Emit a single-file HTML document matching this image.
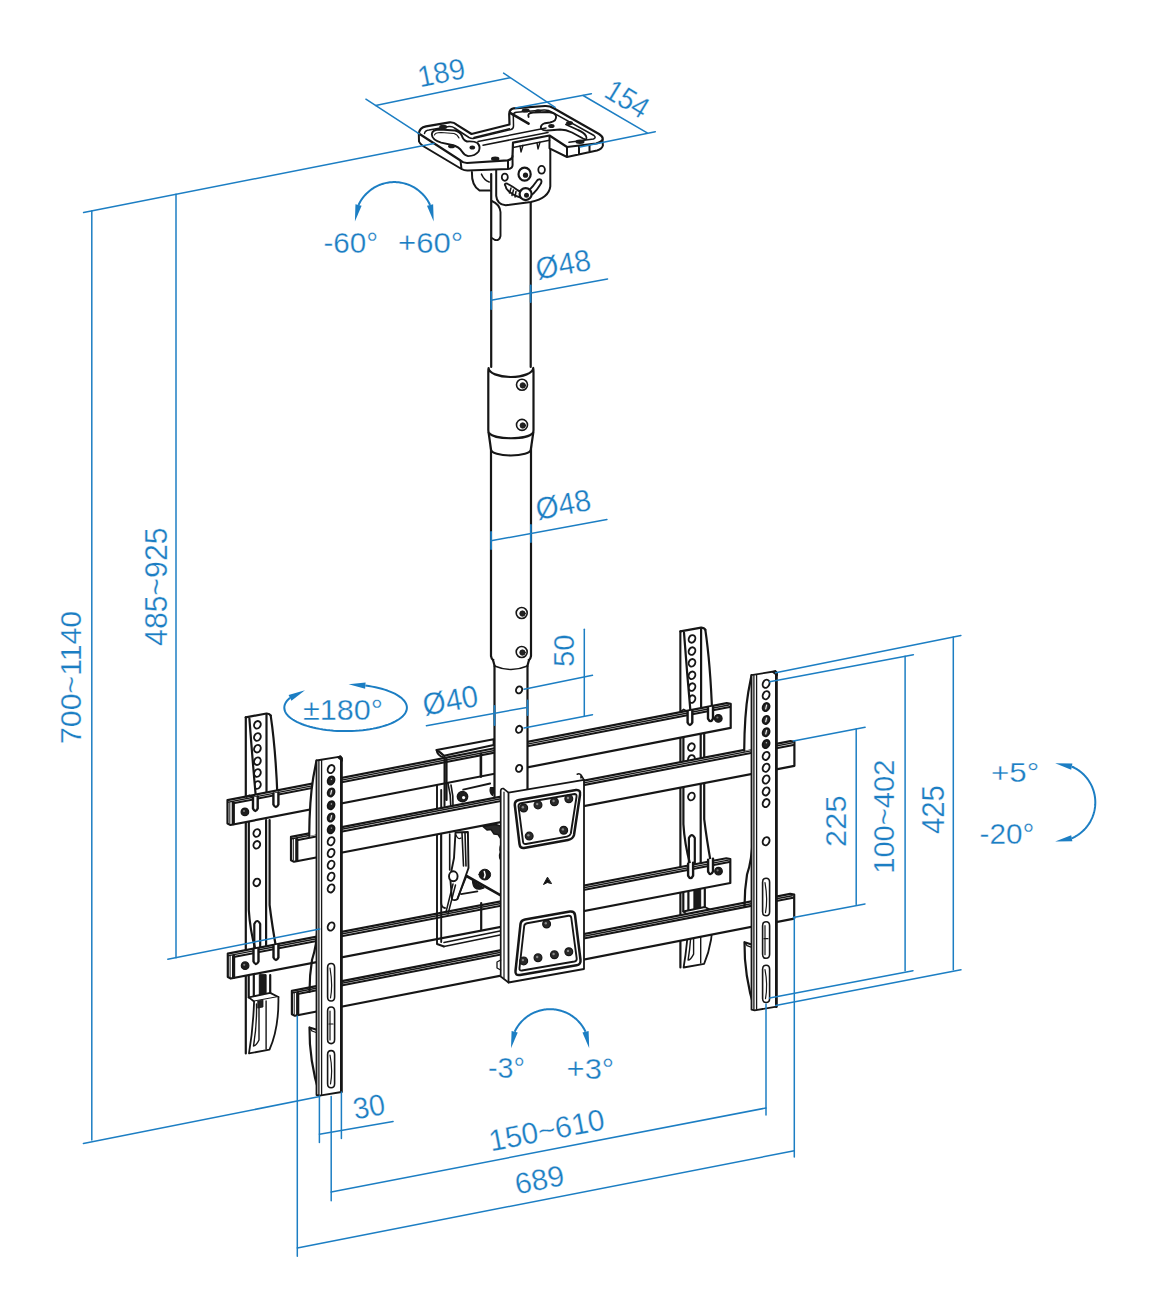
<!DOCTYPE html>
<html><head><meta charset="utf-8"><style>
html,body{margin:0;padding:0;background:#fff;}
svg{display:block;}
text{font-family:"Liberation Sans",sans-serif;}
</style></head><body>
<svg width="1155" height="1315" viewBox="0 0 1155 1315">
<rect width="1155" height="1315" fill="#fff"/>
<g stroke-linecap="round" stroke-linejoin="round">
<path d="M245.8,717.3 L245.8,1053.4" fill="none" stroke="#161616" stroke-width="2.2"/>
<path d="M245.8,717.3 L266.5,713.5 Q269.5,713.3 270.7,715.6" fill="none" stroke="#161616" stroke-width="2.2"/>
<ellipse cx="257.4" cy="724.8" rx="3.2" ry="3.9" fill="#fff" stroke="#161616" stroke-width="1.9" transform="rotate(25 257.4 724.8)"/>
<ellipse cx="257.4" cy="737.0" rx="3.2" ry="3.9" fill="#fff" stroke="#161616" stroke-width="1.9" transform="rotate(25 257.4 737.0)"/>
<ellipse cx="257.4" cy="748.7" rx="3.2" ry="3.9" fill="#fff" stroke="#161616" stroke-width="1.9" transform="rotate(25 257.4 748.7)"/>
<ellipse cx="257.4" cy="761.2" rx="3.2" ry="3.9" fill="#fff" stroke="#161616" stroke-width="1.9" transform="rotate(25 257.4 761.2)"/>
<ellipse cx="257.4" cy="773.0" rx="3.2" ry="3.9" fill="#fff" stroke="#161616" stroke-width="1.9" transform="rotate(25 257.4 773.0)"/>
<ellipse cx="257.4" cy="785.0" rx="3.2" ry="3.9" fill="#fff" stroke="#161616" stroke-width="1.9" transform="rotate(25 257.4 785.0)"/>
<path d="M247.2,718.6 L249.4,718.6 Q252.5,760 256.1,800 L247.2,800 Z" fill="#fff" stroke="none" stroke-width="0"/>
<path d="M249.4,718.6 Q252.5,760 256.1,800" fill="none" stroke="#161616" stroke-width="2.2"/>
<path d="M266.5,714 L266.5,800" fill="none" stroke="#161616" stroke-width="2.2"/>
<path d="M270.7,715.6 Q275.8,750 277.6,800" fill="none" stroke="#161616" stroke-width="2.2"/>
<path d="M248.8,820 L248.8,910 Q250,930 255.5,950" fill="none" stroke="#161616" stroke-width="2.2"/>
<path d="M266.1,820 L266.1,950 M269.6,820 L269.6,905 Q272,925 276.5,950" fill="none" stroke="#161616" stroke-width="2.2"/>
<path d="M254.3,952 L254.3,924 Q257.2,918 260.2,924 L260.2,952" fill="none" stroke="#161616" stroke-width="2.2"/>
<ellipse cx="256.8" cy="833.0" rx="3.2" ry="3.9" fill="#fff" stroke="#161616" stroke-width="1.9" transform="rotate(25 256.8 833.0)"/>
<ellipse cx="256.8" cy="844.8" rx="3.2" ry="3.9" fill="#fff" stroke="#161616" stroke-width="1.9" transform="rotate(25 256.8 844.8)"/>
<ellipse cx="256.8" cy="882.4" rx="3.2" ry="3.9" fill="#fff" stroke="#161616" stroke-width="1.9" transform="rotate(25 256.8 882.4)"/>
<path d="M248.7,975 L248.7,997.4 M253.8,975 L253.8,996 M270.2,975 L270.2,993" fill="none" stroke="#161616" stroke-width="2.2"/>
<path d="M259.3,975 L259.3,996.7 L266.1,996 L266.1,975 Z" fill="#1a1a1a" stroke="#161616" stroke-width="1"/>
<path d="M248.7,997.4 L270.2,992.9 L278.4,997 L254.1,1001.5 Z" fill="#fff" stroke="#161616" stroke-width="1.8"/>
<path d="M254.1,1001.5 Q253,1030 249,1053.4 L269.5,1049.7 Q279,1028 278.4,997" fill="#fff" stroke="#161616" stroke-width="1.8"/>
<path d="M266.1,1001 L266.1,1049 M256.5,1004 Q257,1025 253.5,1046 M259,1006 L259,1040 Q256,1046 253.5,1046" fill="none" stroke="#161616" stroke-width="1.4"/>
<path d="M258,1001 L263,1000 L263,1007 L258,1008 Z" fill="#222" stroke="#161616" stroke-width="0.8"/>
<g transform="translate(434.6,-85.9)">
<path d="M245.8,717.3 L245.8,1053.4" fill="none" stroke="#161616" stroke-width="2.2"/>
<path d="M245.8,717.3 L266.5,713.5 Q269.5,713.3 270.7,715.6" fill="none" stroke="#161616" stroke-width="2.2"/>
<ellipse cx="257.4" cy="724.8" rx="3.2" ry="3.9" fill="#fff" stroke="#161616" stroke-width="1.9" transform="rotate(25 257.4 724.8)"/>
<ellipse cx="257.4" cy="737.0" rx="3.2" ry="3.9" fill="#fff" stroke="#161616" stroke-width="1.9" transform="rotate(25 257.4 737.0)"/>
<ellipse cx="257.4" cy="748.7" rx="3.2" ry="3.9" fill="#fff" stroke="#161616" stroke-width="1.9" transform="rotate(25 257.4 748.7)"/>
<ellipse cx="257.4" cy="761.2" rx="3.2" ry="3.9" fill="#fff" stroke="#161616" stroke-width="1.9" transform="rotate(25 257.4 761.2)"/>
<ellipse cx="257.4" cy="773.0" rx="3.2" ry="3.9" fill="#fff" stroke="#161616" stroke-width="1.9" transform="rotate(25 257.4 773.0)"/>
<ellipse cx="257.4" cy="785.0" rx="3.2" ry="3.9" fill="#fff" stroke="#161616" stroke-width="1.9" transform="rotate(25 257.4 785.0)"/>
<path d="M247.2,718.6 L249.4,718.6 Q252.5,760 256.1,800 L247.2,800 Z" fill="#fff" stroke="none" stroke-width="0"/>
<path d="M249.4,718.6 Q252.5,760 256.1,800" fill="none" stroke="#161616" stroke-width="2.2"/>
<path d="M266.5,714 L266.5,800" fill="none" stroke="#161616" stroke-width="2.2"/>
<path d="M270.7,715.6 Q275.8,750 277.6,800" fill="none" stroke="#161616" stroke-width="2.2"/>
<path d="M248.8,820 L248.8,910 Q250,930 255.5,950" fill="none" stroke="#161616" stroke-width="2.2"/>
<path d="M266.1,820 L266.1,950 M269.6,820 L269.6,905 Q272,925 276.5,950" fill="none" stroke="#161616" stroke-width="2.2"/>
<path d="M254.3,952 L254.3,924 Q257.2,918 260.2,924 L260.2,952" fill="none" stroke="#161616" stroke-width="2.2"/>
<ellipse cx="256.8" cy="833.0" rx="3.2" ry="3.9" fill="#fff" stroke="#161616" stroke-width="1.9" transform="rotate(25 256.8 833.0)"/>
<ellipse cx="256.8" cy="844.8" rx="3.2" ry="3.9" fill="#fff" stroke="#161616" stroke-width="1.9" transform="rotate(25 256.8 844.8)"/>
<ellipse cx="256.8" cy="882.4" rx="3.2" ry="3.9" fill="#fff" stroke="#161616" stroke-width="1.9" transform="rotate(25 256.8 882.4)"/>
<path d="M248.7,975 L248.7,997.4 M253.8,975 L253.8,996 M270.2,975 L270.2,993" fill="none" stroke="#161616" stroke-width="2.2"/>
<path d="M259.3,975 L259.3,996.7 L266.1,996 L266.1,975 Z" fill="#1a1a1a" stroke="#161616" stroke-width="1"/>
<path d="M248.7,997.4 L270.2,992.9 L278.4,997 L254.1,1001.5 Z" fill="#fff" stroke="#161616" stroke-width="1.8"/>
<path d="M254.1,1001.5 Q253,1030 249,1053.4 L269.5,1049.7 Q279,1028 278.4,997" fill="#fff" stroke="#161616" stroke-width="1.8"/>
<path d="M266.1,1001 L266.1,1049 M256.5,1004 Q257,1025 253.5,1046 M259,1006 L259,1040 Q256,1046 253.5,1046" fill="none" stroke="#161616" stroke-width="1.4"/>
<path d="M258,1001 L263,1000 L263,1007 L258,1008 Z" fill="#222" stroke="#161616" stroke-width="0.8"/>
</g>
<path d="M227.5,800.1 L726.7,703.1766295707472 L730.7,703.9 L730.7,727.9 L230.5,825.0175278219397 L227.5,823.6 Z" fill="#fff" stroke="#161616" stroke-width="2.2"/>
<line x1="228.5" y1="802.1" x2="728.7" y2="705.0" stroke="#161616" stroke-width="1.4"/>
<line x1="234.5" y1="803.1" x2="729.7" y2="707.0" stroke="#161616" stroke-width="2.0"/>
<line x1="233.3" y1="802.6" x2="233.3" y2="823.7" stroke="#161616" stroke-width="3.2"/>
<line x1="229.8" y1="802.6" x2="229.8" y2="823.1" stroke="#161616" stroke-width="1.0"/>
<path d="M227.8,953.6 L726.3,858.2649751243781 L730.3,859.0 L730.3,883.0 L230.8,978.5262686567164 L227.8,977.1 Z" fill="#fff" stroke="#161616" stroke-width="2.2"/>
<line x1="228.8" y1="955.6" x2="728.3" y2="860.1" stroke="#161616" stroke-width="1.4"/>
<line x1="234.8" y1="956.7" x2="729.3" y2="862.1" stroke="#161616" stroke-width="2.0"/>
<line x1="233.6" y1="956.2" x2="233.6" y2="977.3" stroke="#161616" stroke-width="3.2"/>
<line x1="230.1" y1="956.1" x2="230.1" y2="976.6" stroke="#161616" stroke-width="1.0"/>
<path d="M253,797.5 L253,808.5 Q255.3,813.5 257.7,808.5 L257.7,796.5" fill="#fff" stroke="#161616" stroke-width="2.4"/>
<path d="M273.4,793.5 L273.4,804.5 Q275.9,809.5 278.4,804.5 L278.4,792.5" fill="#fff" stroke="#161616" stroke-width="2.4"/>
<path d="M246.5,797 L249.1,795.3 L253,797.5" fill="none" stroke="#161616" stroke-width="1.6"/>
<path d="M253.5,949.5 L253.5,961.5 Q256,966.5 258.5,961.5 L258.5,948.5" fill="#fff" stroke="#161616" stroke-width="2.4"/>
<path d="M273.5,945.5 L273.5,957.5 Q276,962.5 278.4,957.5 L278.4,944.5" fill="#fff" stroke="#161616" stroke-width="2.4"/>
<circle cx="244.9" cy="811.9" r="3.8" fill="#1e1e1e" stroke="#161616" stroke-width="1.2"/>
<circle cx="244.0" cy="811.0" r="1.1" fill="#777" stroke="#161616" stroke-width="0"/>
<circle cx="245.1" cy="965.7" r="3.8" fill="#1e1e1e" stroke="#161616" stroke-width="1.2"/>
<circle cx="244.2" cy="964.8" r="1.1" fill="#777" stroke="#161616" stroke-width="0"/>
<circle cx="718.3" cy="718.4" r="3.8" fill="#1e1e1e" stroke="#161616" stroke-width="1.2"/>
<circle cx="717.4" cy="717.5" r="1.1" fill="#777" stroke="#161616" stroke-width="0"/>
<circle cx="718.5" cy="871.2" r="3.8" fill="#1e1e1e" stroke="#161616" stroke-width="1.2"/>
<circle cx="717.6" cy="870.3" r="1.1" fill="#777" stroke="#161616" stroke-width="0"/>
<g transform="translate(434.6,-85.9)">
<path d="M253,797.5 L253,808.5 Q255.3,813.5 257.7,808.5 L257.7,796.5" fill="#fff" stroke="#161616" stroke-width="2.4"/>
<path d="M273.4,793.5 L273.4,804.5 Q275.9,809.5 278.4,804.5 L278.4,792.5" fill="#fff" stroke="#161616" stroke-width="2.4"/>
<path d="M246.5,797 L249.1,795.3 L253,797.5" fill="none" stroke="#161616" stroke-width="1.6"/>
</g>
<g transform="translate(434.6,-85.9)">
<path d="M253.5,949.5 L253.5,961.5 Q256,966.5 258.5,961.5 L258.5,948.5" fill="#fff" stroke="#161616" stroke-width="2.4"/>
<path d="M273.5,945.5 L273.5,957.5 Q276,962.5 278.4,957.5 L278.4,944.5" fill="#fff" stroke="#161616" stroke-width="2.4"/>
</g>
<path d="M491.2,174 L491.2,367 M530.7,201.5 L530.7,367" fill="none" stroke="#161616" stroke-width="2.2"/>
<path d="M491.8,201 Q499.6,204 500.5,212 L500.5,236 Q499.5,241 495,240 L491.8,238" fill="none" stroke="#161616" stroke-width="1.9"/>
<path d="M491,445 L491,656 Q491.5,659 493,660 A18.5,5.5 0 0 0 529,660 Q530.5,659 531,656 L531,445" fill="#fff" stroke="#161616" stroke-width="2.2"/>
<path d="M493,660 L494.5,665.5 A16.5,4 0 0 0 527.5,665.5 L529,660" fill="#fff" stroke="#161616" stroke-width="2.2"/>
<circle cx="521.7" cy="613.0" r="5.5" fill="#fff" stroke="#161616" stroke-width="1.6"/>
<circle cx="522.5" cy="613.6" r="2.75" fill="#222" stroke="#161616" stroke-width="0.8"/>
<circle cx="521.7" cy="652.0" r="5.5" fill="#fff" stroke="#161616" stroke-width="1.6"/>
<circle cx="522.5" cy="652.6" r="2.75" fill="#222" stroke="#161616" stroke-width="0.8"/>
<path d="M488.6,432.5 L491,449.5 A19.9,6 0 0 0 530.8,449.5 L533.3,432.5 Z" fill="#fff" stroke="#161616" stroke-width="2.2"/>
<path d="M488.6,368 Q488.3,369 488.3,372 L488.3,430 Q488.3,432 489,433 A22.6,7 0 0 0 532.8,433 Q533.5,432 533.5,430 L533.5,372 Q533.5,369 533.2,368 A22.3,9 0 0 1 488.6,368 Z" fill="#fff" stroke="#161616" stroke-width="2.2"/>
<circle cx="522.0" cy="384.8" r="5.5" fill="#fff" stroke="#161616" stroke-width="1.6"/>
<circle cx="522.8" cy="385.4" r="2.75" fill="#222" stroke="#161616" stroke-width="0.8"/>
<circle cx="522.0" cy="424.9" r="5.5" fill="#fff" stroke="#161616" stroke-width="1.6"/>
<circle cx="522.8" cy="425.5" r="2.75" fill="#222" stroke="#161616" stroke-width="0.8"/>
<path d="M471.9,172 Q471.5,186 479.7,190.6 L491,190.6" fill="#fff" stroke="#161616" stroke-width="2.0"/>
<path d="M481.5,174.2 Q484,180 489.2,182" fill="none" stroke="#161616" stroke-width="1.6"/>
<path d="M496.2,162.5 L496.2,195.8 Q497,204.5 505.7,205.3 L530.8,201.9 Q549,198 550.3,186.3 L550.3,136" fill="#fff" stroke="#161616" stroke-width="2.0"/>
<path d="M524.6,174.2 m-6.1,0 a6.1,6.5 0 1 0 12.2,0 a6.1,6.5 0 1 0 -12.2,0" fill="#fff" stroke="#161616" stroke-width="2.2"/>
<circle cx="525.5" cy="175.2" r="2.6" fill="#1a1a1a"/>
<ellipse cx="541.6" cy="169.8" rx="3.3" ry="3.9" fill="#fff" stroke="#161616" stroke-width="1.8"/>
<ellipse cx="504.8" cy="177.2" rx="3.0" ry="3.6" fill="#fff" stroke="#161616" stroke-width="1.8"/>
<path d="M505.7,186.3 Q503.5,183.5 507,183.5 Q512,186 518,190.5 L524,193 Q530,191 536,182 Q538,178.5 540.8,179.6 Q542.5,181.5 540,185 Q534,195 526,198.4 Q516,198 508.5,191 Q505.5,188.5 505.7,186.3 Z" fill="#fff" stroke="#161616" stroke-width="1.9"/>
<path d="M511,188 L509.5,193 M513.5,190 L512,195.5 M516,191.5 L515,197" fill="none" stroke="#161616" stroke-width="1.5"/>
<circle cx="525.6" cy="194.1" r="6.0" fill="#fff" stroke="#161616" stroke-width="2.2"/>
<circle cx="526.5" cy="195.3" r="2.5" fill="#1a1a1a"/>
<path d="M418.8,133.5 L419,141.5 Q420,144 423,146 L461.5,169 Q464.5,170.8 468,170.6 L508,169 Q512.5,168.5 512.6,165 L512.5,156 M460.5,160.5 L461.5,169 M508,160.3 L508,169" fill="#fff" stroke="#161616" stroke-width="2.0"/>
<path d="M602.5,139.5 L602.9,145.5 Q602,149 597,150.5 L567,157 L549.5,148.3 L549.5,135.5 M567,147 L567,157 M579,145.2 L579,154.5 M589.5,144.4 L589.5,152.2" fill="#fff" stroke="#161616" stroke-width="2.0"/>
<path d="M513,142.6 L513,147.5 L549.5,140.3" fill="none" stroke="#161616" stroke-width="1.6"/>
<path d="M418.8,133.5 Q419.5,127.5 426,126.3 L449.5,122.3 Q454,122 456.5,124.6 L471.5,134 L509.5,124.5 L509.2,114 Q509.5,109 513.5,108.4 L545,106 Q550,105.8 553.3,108 L599,134 Q603.5,137 602.5,139.5 Q601,142.5 596,143.5 L567,147 L549.5,135.5 L513,142.6 L512.5,156 Q512,159.8 507.5,160.3 L467,163 Q463,163 460.5,160.5 Z" fill="#fff" stroke="#161616" stroke-width="2.2"/>
<path d="M424.5,133.5 Q425,130.5 429,130 L449,126.5 Q452.5,126.3 454.5,128 L469,137.5 Q471.5,139 474.5,138.3 L511,129.5 Q513.5,128.8 513.5,126 L513.3,115.5 Q513.5,112.5 516.5,112.3 L544,110 Q548.5,109.8 551.5,111.8 L594,135.5 Q596.5,137.5 593.5,139 L569,142.3" fill="none" stroke="#161616" stroke-width="1.5"/>
<path d="M474,137.5 L509.5,128.7 M478,141.5 L546,128 M483,145.2 L548,132.4" fill="none" stroke="#161616" stroke-width="1.5"/>
<path d="M520,146 L521,152 L523,145.3 M537,142.8 L538,149 L540,142.3" fill="none" stroke="#161616" stroke-width="1.4"/>
<path d="M431.8,134.3 Q432,129.5 440,129.5 L455,130.5 Q460,131.5 462,136 Q463,140 467,141.5 Q474,141 477.5,143 Q481,147 478.6,151.5 Q475,156 468.2,156.1 Q464,155 462,151.5 Q459,146.5 452,145 L441.2,142.6 Q432,140 431.8,134.3 Z" fill="none" stroke="#161616" stroke-width="1.9"/>
<path d="M434.5,135 Q435,132.5 441,132.5 L454,133.5 Q457.5,134.5 459,138" fill="none" stroke="#161616" stroke-width="1.2"/>
<path d="M528.6,116.9 Q527,113 533,112.5 L548,112 Q555,112.5 556,116 Q557,121 550,122.5 L545,123.2 Q540,125 541,128.5 Q543,131 548,130.5 L560,129.5 Q566,129.5 572,132.5 L583,138.5 Q588,141 586,136 Q584,132.5 578,130 L566,124.5" fill="none" stroke="#161616" stroke-width="1.9"/>
<path d="M510.5,113.1 L528.6,123.6" fill="none" stroke="#161616" stroke-width="2.6"/>
<ellipse cx="443.2" cy="127" rx="4" ry="2.2" fill="#1a1a1a"/>
<ellipse cx="451.6" cy="146.2" rx="3.5" ry="2" fill="#1a1a1a"/>
<ellipse cx="495.2" cy="158.7" rx="4.2" ry="2.2" fill="#1a1a1a"/>
<ellipse cx="472.3" cy="147.5" rx="2.8" ry="2" fill="#1a1a1a"/>
<ellipse cx="525.7" cy="110.5" rx="4" ry="2" fill="#1a1a1a"/>
<ellipse cx="569.5" cy="123.1" rx="3.5" ry="2" fill="#1a1a1a"/>
<ellipse cx="551.4" cy="126" rx="3.2" ry="2" fill="#1a1a1a"/>
<ellipse cx="580" cy="141.7" rx="4.5" ry="2.2" fill="#1a1a1a"/>
<ellipse cx="538" cy="111" rx="3" ry="1.8" fill="#1a1a1a"/>
<path d="M436.6,750 L493.7,739.2 L493.7,745 L444,755.8 Q440,752 436.6,750 Z" fill="#fff" stroke="#161616" stroke-width="2.1"/>
<path d="M436.6,750 Q437.2,755.5 443.5,757.4" fill="none" stroke="#161616" stroke-width="2.0"/>
<path d="M444.5,757 L444.5,806 M446.6,759 L446.6,800" fill="none" stroke="#161616" stroke-width="2.0"/>
<path d="M480.9,753.7 L480.9,776.6" fill="none" stroke="#161616" stroke-width="2.6"/>
<path d="M437,785 L437,944 L444,946.5 M441.2,790 L441.2,942" fill="none" stroke="#161616" stroke-width="1.9"/>
<path d="M463.2,789.7 L490.2,783.5" fill="none" stroke="#161616" stroke-width="1.8"/>
<path d="M490.5,787.5 Q489,793 492.5,795.5 Q494.5,792 493.5,787.5 Z" fill="#1a1a1a" stroke="#161616" stroke-width="1.2"/>
<path d="M448,783.5 Q451,795 450.8,806.3 M451,785 Q453.5,796 453,806" fill="none" stroke="#161616" stroke-width="1.6"/>
<circle cx="462.5" cy="796.6" r="5.2" fill="#1e1e1e" stroke="#161616" stroke-width="1.4"/>
<circle cx="463.6" cy="797.6" r="1.6" fill="#fff" stroke="#161616" stroke-width="0"/>
<path d="M481.2,903 L481.2,930" fill="none" stroke="#161616" stroke-width="2.2"/>
<path d="M444,946.5 L500,935 M444,942.5 L500,931" fill="none" stroke="#161616" stroke-width="1.5"/>
<path d="M441.2,835 L441.2,903 Q441.5,907.5 445,908" fill="none" stroke="#161616" stroke-width="1.8"/>
<path d="M449.7,834 L449.7,870" fill="none" stroke="#161616" stroke-width="1.6"/>
<path d="M455.5,832.5 L467.9,832 L468.5,868 L457.5,899 Q455,901 452,899.5 L450.5,881 Q451,870 454,858 Z" fill="#fff" stroke="#161616" stroke-width="1.9"/>
<path d="M462,833 L463.5,866 M465,833 L466,866" fill="none" stroke="#161616" stroke-width="1.6"/>
<path d="M456,835 Q458,840 461,838" fill="none" stroke="#161616" stroke-width="1.3"/>
<ellipse cx="453.3" cy="876.3" rx="4.3" ry="5" fill="#fff" stroke="#161616" stroke-width="1.9"/>
<path d="M446,912 L453,884 M448,914 L455.5,885" fill="none" stroke="#161616" stroke-width="1.5"/>
<path d="M466.5,876 L502.1,896.2" fill="none" stroke="#161616" stroke-width="2.6"/>
<path d="M466.5,876 L457.6,898.2 M461,894.1 L477.4,891.4" fill="none" stroke="#161616" stroke-width="1.7"/>
<path d="M472.5,881 Q473,890.5 481,889 L484,888 Z" fill="#1a1a1a" stroke="#161616" stroke-width="1.2"/>
<path d="M479,874.6 a5.8,5.4 0 1 0 11.6,0 a5.8,5.4 0 1 0 -11.6,0 Z" fill="#1a1a1a" stroke="#161616" stroke-width="1"/>
<path d="M484.3,871.5 Q485.8,874.6 484.3,877.7" fill="none" stroke="#fff" stroke-width="1.6"/>
<path d="M482.9,826.5 L487,830 L491,829.5 L494,834 L498,834.5 L501,839 L504.8,840.7 L504.8,829 Q500,825 495,824.5 Z" fill="#2a2a2a" stroke="#161616" stroke-width="1.4"/>
<path d="M502.5,841 Q499,848 500.5,852 Q498,858 502.8,862 L501,896" fill="none" stroke="#161616" stroke-width="1.7"/>
<path d="M494.5,666 L494.5,802 L527.5,802 L527.5,666" fill="#fff" stroke="#161616" stroke-width="2.2"/>
<path d="M494.5,666 Q511,673 527.5,666" fill="none" stroke="#161616" stroke-width="1.4"/>
<ellipse cx="519.1" cy="689.9" rx="3" ry="3.6" fill="#fff" stroke="#161616" stroke-width="1.9" transform="rotate(25 519.1 689.9)"/>
<ellipse cx="519.1" cy="729.3" rx="3" ry="3.6" fill="#fff" stroke="#161616" stroke-width="1.9" transform="rotate(25 519.1 729.3)"/>
<ellipse cx="519.1" cy="768.4" rx="3" ry="3.6" fill="#fff" stroke="#161616" stroke-width="1.9" transform="rotate(25 519.1 768.4)"/>
<path d="M291,836.8 L790.4,741.066785856178 L794.4,741.8 L794.4,765.8 L294,861.7249106078665 L291,860.3 Z" fill="#fff" stroke="#161616" stroke-width="2.2"/>
<line x1="292.0" y1="838.8" x2="792.4" y2="742.9" stroke="#161616" stroke-width="1.4"/>
<line x1="298.0" y1="839.9" x2="793.4" y2="744.9" stroke="#161616" stroke-width="2.0"/>
<line x1="296.8" y1="839.4" x2="296.8" y2="860.5" stroke="#161616" stroke-width="3.2"/>
<line x1="293.3" y1="839.3" x2="293.3" y2="859.8" stroke="#161616" stroke-width="1.0"/>
<path d="M291.9,990.8 L790.2,893.8780211029266 L794.2,894.6 L794.2,918.6 L294.9,1015.716484172805 L291.9,1014.3 Z" fill="#fff" stroke="#161616" stroke-width="2.2"/>
<line x1="292.9" y1="992.8" x2="792.2" y2="895.7" stroke="#161616" stroke-width="1.4"/>
<line x1="298.9" y1="993.8" x2="793.2" y2="897.7" stroke="#161616" stroke-width="2.0"/>
<line x1="297.7" y1="993.3" x2="297.7" y2="1014.4" stroke="#161616" stroke-width="3.2"/>
<line x1="294.2" y1="993.3" x2="294.2" y2="1013.8" stroke="#161616" stroke-width="1.0"/>
<path d="M508.5,792.6 L503.5,788.6 Q501,788 500.7,791 L500.7,976.5 L508.5,982.5" fill="#fff" stroke="#161616" stroke-width="1.7"/>
<path d="M504,792 L504,978" fill="none" stroke="#161616" stroke-width="1.2"/>
<path d="M500.7,960 L497,962 L497,968 L500.7,970" fill="none" stroke="#161616" stroke-width="1.3"/>
<path d="M508.5,792.6 L584,779.8 L584,969 L508.5,982.5 Z" fill="#fff" stroke="#161616" stroke-width="1.8"/>
<path d="M577.2,774.2 Q579.5,773 581,775 L584,779.8 M581,775 L581,778" fill="none" stroke="#161616" stroke-width="1.6"/>
<path d="M519,800 L576,790 Q581,789.5 580,795 L574,835 Q573,839 568,840 L524,848 Q520,848.5 519.5,844 L514.8,805 Q514.5,800.8 519,800 Z" fill="none" stroke="#161616" stroke-width="2.5"/>
<path d="M521,803.3 L574.5,794 Q577,794 576.5,797 L570.8,833.5 Q570,836 567,836.6 L526,844 Q523.3,844.5 523,841.5 L518.5,806.5 Q518.3,803.8 521,803.3 Z" fill="none" stroke="#161616" stroke-width="1.9"/>
<circle cx="523.7" cy="808.0" r="3.9" fill="#2a2a2a" stroke="#161616" stroke-width="1.2"/>
<circle cx="522.9" cy="807.2" r="1.2" fill="#888" stroke="#161616" stroke-width="0"/>
<circle cx="538.0" cy="804.9" r="3.9" fill="#2a2a2a" stroke="#161616" stroke-width="1.2"/>
<circle cx="537.2" cy="804.1" r="1.2" fill="#888" stroke="#161616" stroke-width="0"/>
<circle cx="554.4" cy="801.8" r="3.9" fill="#2a2a2a" stroke="#161616" stroke-width="1.2"/>
<circle cx="553.6" cy="801.0" r="1.2" fill="#888" stroke="#161616" stroke-width="0"/>
<circle cx="568.8" cy="798.8" r="3.9" fill="#2a2a2a" stroke="#161616" stroke-width="1.2"/>
<circle cx="568.0" cy="798.0" r="1.2" fill="#888" stroke="#161616" stroke-width="0"/>
<circle cx="529.2" cy="836.1" r="3.9" fill="#2a2a2a" stroke="#161616" stroke-width="1.2"/>
<circle cx="528.4" cy="835.3" r="1.2" fill="#888" stroke="#161616" stroke-width="0"/>
<circle cx="563.7" cy="830.2" r="3.9" fill="#2a2a2a" stroke="#161616" stroke-width="1.2"/>
<circle cx="562.9" cy="829.4" r="1.2" fill="#888" stroke="#161616" stroke-width="0"/>
<path d="M525,919.5 L570,911.5 Q574.5,911 575,915 L580.5,960 Q581,964.5 576.5,965.3 L520,975 Q515,975.8 515.5,971 L520.5,924 Q521,920.2 525,919.5 Z" fill="none" stroke="#161616" stroke-width="2.5"/>
<path d="M527,923.2 L568.5,915.8 Q571,915.5 571.3,918 L576.7,958.3 Q577,961 574.5,961.5 L522,970.5 Q519.2,971 519.5,968 L524.2,926 Q524.5,923.6 527,923.2 Z" fill="none" stroke="#161616" stroke-width="1.9"/>
<circle cx="546.6" cy="924.0" r="3.9" fill="#2a2a2a" stroke="#161616" stroke-width="1.2"/>
<circle cx="545.8" cy="923.2" r="1.2" fill="#888" stroke="#161616" stroke-width="0"/>
<circle cx="523.7" cy="960.9" r="3.9" fill="#2a2a2a" stroke="#161616" stroke-width="1.2"/>
<circle cx="522.9" cy="960.1" r="1.2" fill="#888" stroke="#161616" stroke-width="0"/>
<circle cx="538.0" cy="957.8" r="3.9" fill="#2a2a2a" stroke="#161616" stroke-width="1.2"/>
<circle cx="537.2" cy="957.0" r="1.2" fill="#888" stroke="#161616" stroke-width="0"/>
<circle cx="554.4" cy="954.8" r="3.9" fill="#2a2a2a" stroke="#161616" stroke-width="1.2"/>
<circle cx="553.6" cy="954.0" r="1.2" fill="#888" stroke="#161616" stroke-width="0"/>
<circle cx="568.8" cy="951.7" r="3.9" fill="#2a2a2a" stroke="#161616" stroke-width="1.2"/>
<circle cx="568.0" cy="950.9" r="1.2" fill="#888" stroke="#161616" stroke-width="0"/>
<path d="M547.3,877.5 L543.5,884.5 L547.3,882.5 L551.2,883.5 Z" fill="#111" stroke="#161616" stroke-width="1"/>
<path d="M316.5,760.5 L313.3,777.3 Q309.5,800 309.2,836 L318,834 L318,760 Z" fill="#fff" stroke="none" stroke-width="0"/>
<path d="M316.5,760.5 L313.3,777.3 Q309.5,800 309.2,836" fill="none" stroke="#161616" stroke-width="2.2"/>
<path d="M317.5,925 Q317,945 312,960 Q309.5,975 309.5,992" fill="none" stroke="#161616" stroke-width="2.2"/>
<path d="M317.5,1030 L309.5,1027.5 Q309,1060 319.6,1095" fill="#fff" stroke="#161616" stroke-width="2.2"/>
<path d="M309.5,1027.5 L312,1031 L317.5,1033" fill="none" stroke="#161616" stroke-width="1.3"/>
<path d="M316.5,760.5 L338.8,756.8 Q340.8,756.5 341.6,758 L341.6,1092 L319.6,1095.6 L316.5,1095 Z" fill="#fff" stroke="#161616" stroke-width="1.8"/>
<path d="M318.9,761 L318.9,1095 M321.6,760.5 L321.6,1095" fill="none" stroke="#161616" stroke-width="1.3"/>
<path d="M341.3,759 L341.3,1092" fill="none" stroke="#161616" stroke-width="2.6"/>
<path d="M337.5,757.3 L340.5,755.8 L342.2,758 L342.2,761 Z" fill="#1a1a1a" stroke="#161616" stroke-width="1.2"/>
<ellipse cx="331.1" cy="769.1" rx="3.2" ry="4.2" fill="#fff" stroke="#161616" stroke-width="1.9" transform="rotate(25 331.1 769.1)"/>
<ellipse cx="331.1" cy="780.5" rx="3.2" ry="4.2" fill="#222" stroke="#161616" stroke-width="1.9" transform="rotate(25 331.1 780.5)"/>
<circle cx="331.4" cy="779.3" r="0.7" fill="#bbb"/>
<ellipse cx="331.1" cy="792.4" rx="3.2" ry="4.2" fill="#2e2e2e" stroke="#161616" stroke-width="1.9" transform="rotate(25 331.1 792.4)"/>
<path d="M330.7,794.2 L331.6,790.5" stroke="#e8e8e8" stroke-width="1.2"/>
<ellipse cx="331.1" cy="805.2" rx="3.2" ry="4.2" fill="#222" stroke="#161616" stroke-width="1.9" transform="rotate(25 331.1 805.2)"/>
<circle cx="331.4" cy="804.0" r="0.7" fill="#bbb"/>
<ellipse cx="331.1" cy="817.5" rx="3.2" ry="4.2" fill="#2e2e2e" stroke="#161616" stroke-width="1.9" transform="rotate(25 331.1 817.5)"/>
<path d="M330.7,819.3 L331.6,815.6" stroke="#e8e8e8" stroke-width="1.2"/>
<ellipse cx="331.1" cy="829.3" rx="3.2" ry="4.2" fill="#222" stroke="#161616" stroke-width="1.9" transform="rotate(25 331.1 829.3)"/>
<circle cx="331.4" cy="828.1" r="0.7" fill="#bbb"/>
<ellipse cx="331.1" cy="841.2" rx="3.2" ry="4.2" fill="#fff" stroke="#161616" stroke-width="1.9" transform="rotate(25 331.1 841.2)"/>
<ellipse cx="331.1" cy="853.0" rx="3.2" ry="4.2" fill="#fff" stroke="#161616" stroke-width="1.9" transform="rotate(25 331.1 853.0)"/>
<ellipse cx="331.1" cy="864.8" rx="3.2" ry="4.2" fill="#fff" stroke="#161616" stroke-width="1.9" transform="rotate(25 331.1 864.8)"/>
<ellipse cx="331.1" cy="876.7" rx="3.2" ry="4.2" fill="#fff" stroke="#161616" stroke-width="1.9" transform="rotate(25 331.1 876.7)"/>
<ellipse cx="331.1" cy="888.4" rx="3.2" ry="4.2" fill="#fff" stroke="#161616" stroke-width="1.9" transform="rotate(25 331.1 888.4)"/>
<ellipse cx="331.1" cy="926.5" rx="3.2" ry="4.2" fill="#fff" stroke="#161616" stroke-width="1.9" transform="rotate(25 331.1 926.5)"/>
<path d="M327.6,967.5 Q327.6,963.5 331.1,963.5 Q334.6,963.5 334.6,967.5 L334.6,997 Q334.6,1001 331.1,1001 Q327.6,1001 327.6,997 Z" fill="#fff" stroke="#161616" stroke-width="1.6"/>
<path d="M327.6,1011 Q327.6,1007 331.1,1007 Q334.6,1007 334.6,1011 L334.6,1039.6 Q334.6,1043.6 331.1,1043.6 Q327.6,1043.6 327.6,1039.6 Z" fill="#fff" stroke="#161616" stroke-width="1.6"/>
<path d="M327.6,1054.6 Q327.6,1050.6 331.1,1050.6 Q334.6,1050.6 334.6,1054.6 L334.6,1083.8 Q334.6,1087.8 331.1,1087.8 Q327.6,1087.8 327.6,1083.8 Z" fill="#fff" stroke="#161616" stroke-width="1.6"/>
<path d="M330,968 Q333,985 330.5,998 M330,1011 L330,1040 M329,1024 L333,1024 M330,1055 Q333,1070 330.5,1084" fill="none" stroke="#161616" stroke-width="1.2"/>
<g transform="translate(435.0,-85.3)">
<path d="M316.5,760.5 L313.3,777.3 Q309.5,800 309.2,836 L318,834 L318,760 Z" fill="#fff" stroke="none" stroke-width="0"/>
<path d="M316.5,760.5 L313.3,777.3 Q309.5,800 309.2,836" fill="none" stroke="#161616" stroke-width="2.2"/>
<path d="M317.5,925 Q317,945 312,960 Q309.5,975 309.5,992" fill="none" stroke="#161616" stroke-width="2.2"/>
<path d="M317.5,1030 L309.5,1027.5 Q309,1060 319.6,1095" fill="#fff" stroke="#161616" stroke-width="2.2"/>
<path d="M309.5,1027.5 L312,1031 L317.5,1033" fill="none" stroke="#161616" stroke-width="1.3"/>
<path d="M316.5,760.5 L338.8,756.8 Q340.8,756.5 341.6,758 L341.6,1092 L319.6,1095.6 L316.5,1095 Z" fill="#fff" stroke="#161616" stroke-width="1.8"/>
<path d="M318.9,761 L318.9,1095 M321.6,760.5 L321.6,1095" fill="none" stroke="#161616" stroke-width="1.3"/>
<path d="M341.3,759 L341.3,1092" fill="none" stroke="#161616" stroke-width="2.6"/>
<path d="M337.5,757.3 L340.5,755.8 L342.2,758 L342.2,761 Z" fill="#1a1a1a" stroke="#161616" stroke-width="1.2"/>
<ellipse cx="331.1" cy="769.1" rx="3.2" ry="4.2" fill="#fff" stroke="#161616" stroke-width="1.9" transform="rotate(25 331.1 769.1)"/>
<ellipse cx="331.1" cy="780.5" rx="3.2" ry="4.2" fill="#fff" stroke="#161616" stroke-width="1.9" transform="rotate(25 331.1 780.5)"/>
<ellipse cx="331.1" cy="792.4" rx="3.2" ry="4.2" fill="#2e2e2e" stroke="#161616" stroke-width="1.9" transform="rotate(25 331.1 792.4)"/>
<path d="M330.7,794.2 L331.6,790.5" stroke="#e8e8e8" stroke-width="1.2"/>
<ellipse cx="331.1" cy="805.2" rx="3.2" ry="4.2" fill="#2e2e2e" stroke="#161616" stroke-width="1.9" transform="rotate(25 331.1 805.2)"/>
<path d="M330.7,807.0 L331.6,803.3" stroke="#e8e8e8" stroke-width="1.2"/>
<ellipse cx="331.1" cy="817.5" rx="3.2" ry="4.2" fill="#2e2e2e" stroke="#161616" stroke-width="1.9" transform="rotate(25 331.1 817.5)"/>
<path d="M330.7,819.3 L331.6,815.6" stroke="#e8e8e8" stroke-width="1.2"/>
<ellipse cx="331.1" cy="829.3" rx="3.2" ry="4.2" fill="#222" stroke="#161616" stroke-width="1.9" transform="rotate(25 331.1 829.3)"/>
<circle cx="331.4" cy="828.1" r="0.7" fill="#bbb"/>
<ellipse cx="331.1" cy="841.2" rx="3.2" ry="4.2" fill="#fff" stroke="#161616" stroke-width="1.9" transform="rotate(25 331.1 841.2)"/>
<ellipse cx="331.1" cy="853.0" rx="3.2" ry="4.2" fill="#fff" stroke="#161616" stroke-width="1.9" transform="rotate(25 331.1 853.0)"/>
<ellipse cx="331.1" cy="864.8" rx="3.2" ry="4.2" fill="#fff" stroke="#161616" stroke-width="1.9" transform="rotate(25 331.1 864.8)"/>
<ellipse cx="331.1" cy="876.7" rx="3.2" ry="4.2" fill="#fff" stroke="#161616" stroke-width="1.9" transform="rotate(25 331.1 876.7)"/>
<ellipse cx="331.1" cy="888.4" rx="3.2" ry="4.2" fill="#fff" stroke="#161616" stroke-width="1.9" transform="rotate(25 331.1 888.4)"/>
<ellipse cx="331.1" cy="926.5" rx="3.2" ry="4.2" fill="#fff" stroke="#161616" stroke-width="1.9" transform="rotate(25 331.1 926.5)"/>
<path d="M327.6,967.5 Q327.6,963.5 331.1,963.5 Q334.6,963.5 334.6,967.5 L334.6,997 Q334.6,1001 331.1,1001 Q327.6,1001 327.6,997 Z" fill="#fff" stroke="#161616" stroke-width="1.6"/>
<path d="M327.6,1011 Q327.6,1007 331.1,1007 Q334.6,1007 334.6,1011 L334.6,1039.6 Q334.6,1043.6 331.1,1043.6 Q327.6,1043.6 327.6,1039.6 Z" fill="#fff" stroke="#161616" stroke-width="1.6"/>
<path d="M327.6,1054.6 Q327.6,1050.6 331.1,1050.6 Q334.6,1050.6 334.6,1054.6 L334.6,1083.8 Q334.6,1087.8 331.1,1087.8 Q327.6,1087.8 327.6,1083.8 Z" fill="#fff" stroke="#161616" stroke-width="1.6"/>
<path d="M330,968 Q333,985 330.5,998 M330,1011 L330,1040 M329,1024 L333,1024 M330,1055 Q333,1070 330.5,1084" fill="none" stroke="#161616" stroke-width="1.2"/>
</g>
<line x1="83.6" y1="212.5" x2="434.0" y2="143.5" stroke="#1c7ec3" stroke-width="1.5"/>
<line x1="91.8" y1="210.9" x2="91.8" y2="1140.0" stroke="#1c7ec3" stroke-width="1.5"/>
<line x1="83.4" y1="1143.4" x2="319.7" y2="1096.6" stroke="#1c7ec3" stroke-width="1.5"/>
<line x1="176.0" y1="194.3" x2="176.0" y2="957.7" stroke="#1c7ec3" stroke-width="1.5"/>
<line x1="167.8" y1="959.2" x2="319.7" y2="929.0" stroke="#1c7ec3" stroke-width="1.5"/>
<text transform="translate(70.2,677.4) rotate(-90.00)" x="0" y="10.8" font-size="30.4" text-anchor="middle" fill="#1c7ec3" stroke="#fff" stroke-width="0.3" textLength="133.2" lengthAdjust="spacingAndGlyphs">700~1140</text>
<text transform="translate(155.6,586.7) rotate(-90.00)" x="0" y="10.9" font-size="30.8" text-anchor="middle" fill="#1c7ec3" stroke="#fff" stroke-width="0.3" textLength="118.4" lengthAdjust="spacingAndGlyphs">485~925</text>
<line x1="365.9" y1="99.2" x2="419.3" y2="133.8" stroke="#1c7ec3" stroke-width="1.5"/>
<line x1="503.6" y1="73.1" x2="555.1" y2="107.4" stroke="#1c7ec3" stroke-width="1.5"/>
<line x1="375.6" y1="105.4" x2="509.9" y2="77.8" stroke="#1c7ec3" stroke-width="1.5"/>
<text transform="translate(441.2,72.3) rotate(-11.70)" x="0" y="10.5" font-size="29.6" text-anchor="middle" fill="#1c7ec3" stroke="#fff" stroke-width="0.3" textLength="47.8" lengthAdjust="spacingAndGlyphs">189</text>
<line x1="515.6" y1="107.9" x2="591.4" y2="93.7" stroke="#1c7ec3" stroke-width="1.5"/>
<line x1="580.0" y1="146.9" x2="655.3" y2="131.7" stroke="#1c7ec3" stroke-width="1.5"/>
<line x1="583.1" y1="95.5" x2="647.2" y2="132.9" stroke="#1c7ec3" stroke-width="1.5"/>
<text transform="translate(627.5,98.6) rotate(31.50)" x="0" y="10.8" font-size="30.3" text-anchor="middle" fill="#1c7ec3" stroke="#fff" stroke-width="0.3" textLength="45.5" lengthAdjust="spacingAndGlyphs">154</text>
<line x1="491.2" y1="300.3" x2="607.5" y2="279.0" stroke="#1c7ec3" stroke-width="1.5"/>
<text transform="translate(563.0,264.0) rotate(-10.40)" x="0" y="10.9" font-size="30.7" text-anchor="middle" fill="#1c7ec3" stroke="#fff" stroke-width="0.3" textLength="55.2" lengthAdjust="spacingAndGlyphs">Ø48</text>
<line x1="491.0" y1="540.8" x2="606.9" y2="519.4" stroke="#1c7ec3" stroke-width="1.5"/>
<text transform="translate(563.1,504.2) rotate(-10.40)" x="0" y="10.9" font-size="30.7" text-anchor="middle" fill="#1c7ec3" stroke="#fff" stroke-width="0.3" textLength="55.8" lengthAdjust="spacingAndGlyphs">Ø48</text>
<line x1="426.4" y1="725.7" x2="526.8" y2="707.4" stroke="#1c7ec3" stroke-width="1.5"/>
<text transform="translate(450.3,700.0) rotate(-10.40)" x="0" y="11.0" font-size="31.0" text-anchor="middle" fill="#1c7ec3" stroke="#fff" stroke-width="0.3" textLength="55.8" lengthAdjust="spacingAndGlyphs">Ø40</text>
<line x1="524.0" y1="689.2" x2="592.5" y2="675.3" stroke="#1c7ec3" stroke-width="1.5"/>
<line x1="524.0" y1="727.9" x2="592.5" y2="714.7" stroke="#1c7ec3" stroke-width="1.5"/>
<line x1="584.3" y1="629.3" x2="584.3" y2="716.0" stroke="#1c7ec3" stroke-width="1.5"/>
<text transform="translate(563.5,650.7) rotate(-90.00)" x="0" y="10.8" font-size="30.3" text-anchor="middle" fill="#1c7ec3" stroke="#fff" stroke-width="0.3" textLength="32.6" lengthAdjust="spacingAndGlyphs">50</text>
<line x1="793.4" y1="741.0" x2="865.1" y2="727.3" stroke="#1c7ec3" stroke-width="1.5"/>
<line x1="856.2" y1="729.0" x2="856.2" y2="904.5" stroke="#1c7ec3" stroke-width="1.5"/>
<line x1="793.4" y1="917.4" x2="865.0" y2="904.0" stroke="#1c7ec3" stroke-width="1.5"/>
<text transform="translate(836.0,821.2) rotate(-90.00)" x="0" y="10.2" font-size="28.9" text-anchor="middle" fill="#1c7ec3" stroke="#fff" stroke-width="0.3" textLength="51.4" lengthAdjust="spacingAndGlyphs">225</text>
<line x1="769.6" y1="681.7" x2="913.4" y2="654.7" stroke="#1c7ec3" stroke-width="1.5"/>
<line x1="905.1" y1="656.3" x2="905.1" y2="970.7" stroke="#1c7ec3" stroke-width="1.5"/>
<line x1="769.6" y1="998.0" x2="913.0" y2="970.7" stroke="#1c7ec3" stroke-width="1.5"/>
<text transform="translate(883.6,816.7) rotate(-90.00)" x="0" y="10.7" font-size="30.1" text-anchor="middle" fill="#1c7ec3" stroke="#fff" stroke-width="0.3" textLength="114.2" lengthAdjust="spacingAndGlyphs">100~402</text>
<line x1="775.6" y1="672.8" x2="960.9" y2="635.4" stroke="#1c7ec3" stroke-width="1.5"/>
<line x1="953.3" y1="636.9" x2="953.3" y2="969.8" stroke="#1c7ec3" stroke-width="1.5"/>
<line x1="775.6" y1="1005.4" x2="961.0" y2="969.8" stroke="#1c7ec3" stroke-width="1.5"/>
<text transform="translate(933.0,809.6) rotate(-90.00)" x="0" y="11.2" font-size="31.4" text-anchor="middle" fill="#1c7ec3" stroke="#fff" stroke-width="0.3" textLength="49.0" lengthAdjust="spacingAndGlyphs">425</text>
<line x1="297.3" y1="1016.0" x2="297.3" y2="1256.3" stroke="#1c7ec3" stroke-width="1.5"/>
<line x1="794.3" y1="917.0" x2="794.3" y2="1157.0" stroke="#1c7ec3" stroke-width="1.5"/>
<line x1="297.3" y1="1247.9" x2="794.3" y2="1150.8" stroke="#1c7ec3" stroke-width="1.5"/>
<text transform="translate(539.4,1179.4) rotate(-11.05)" x="0" y="10.4" font-size="29.3" text-anchor="middle" fill="#1c7ec3" stroke="#fff" stroke-width="0.3" textLength="49.8" lengthAdjust="spacingAndGlyphs">689</text>
<line x1="331.2" y1="1096.6" x2="331.2" y2="1200.7" stroke="#1c7ec3" stroke-width="1.5"/>
<line x1="766.0" y1="1004.0" x2="766.0" y2="1115.0" stroke="#1c7ec3" stroke-width="1.5"/>
<line x1="331.2" y1="1192.0" x2="766.0" y2="1108.0" stroke="#1c7ec3" stroke-width="1.5"/>
<text transform="translate(546.5,1129.8) rotate(-10.90)" x="0" y="10.7" font-size="30.0" text-anchor="middle" fill="#1c7ec3" stroke="#fff" stroke-width="0.3" textLength="117.4" lengthAdjust="spacingAndGlyphs">150~610</text>
<line x1="319.4" y1="1096.0" x2="319.4" y2="1142.4" stroke="#1c7ec3" stroke-width="1.5"/>
<line x1="341.4" y1="1092.0" x2="341.4" y2="1138.5" stroke="#1c7ec3" stroke-width="1.5"/>
<line x1="319.4" y1="1134.2" x2="393.1" y2="1121.5" stroke="#1c7ec3" stroke-width="1.5"/>
<text transform="translate(369.0,1106.2) rotate(-10.00)" x="0" y="10.6" font-size="29.9" text-anchor="middle" fill="#1c7ec3" stroke="#fff" stroke-width="0.3" textLength="32.0" lengthAdjust="spacingAndGlyphs">30</text>
<text transform="translate(350.8,242.2) rotate(0.00)" x="0" y="10.5" font-size="29.6" text-anchor="middle" fill="#1c7ec3" stroke="#fff" stroke-width="0.3" textLength="54.6" lengthAdjust="spacingAndGlyphs">-60°</text>
<text transform="translate(430.6,242.2) rotate(0.00)" x="0" y="10.5" font-size="29.6" text-anchor="middle" fill="#1c7ec3" stroke="#fff" stroke-width="0.3" textLength="65.2" lengthAdjust="spacingAndGlyphs">+60°</text>
<text transform="translate(343.0,709.2) rotate(0.00)" x="0" y="10.6" font-size="29.9" text-anchor="middle" fill="#1c7ec3" stroke="#fff" stroke-width="0.3" textLength="80.0" lengthAdjust="spacingAndGlyphs">±180°</text>
<text transform="translate(1015.1,772.3) rotate(0.00)" x="0" y="9.8" font-size="27.6" text-anchor="middle" fill="#1c7ec3" stroke="#fff" stroke-width="0.3" textLength="48.2" lengthAdjust="spacingAndGlyphs">+5°</text>
<text transform="translate(1007.0,833.6) rotate(0.00)" x="0" y="10.7" font-size="30.0" text-anchor="middle" fill="#1c7ec3" stroke="#fff" stroke-width="0.3" textLength="54.8" lengthAdjust="spacingAndGlyphs">-20°</text>
<text transform="translate(506.5,1067.4) rotate(0.00)" x="0" y="10.5" font-size="29.6" text-anchor="middle" fill="#1c7ec3" stroke="#fff" stroke-width="0.3" textLength="37.0" lengthAdjust="spacingAndGlyphs">-3°</text>
<text transform="translate(590.4,1068.2) rotate(0.00)" x="0" y="10.4" font-size="29.3" text-anchor="middle" fill="#1c7ec3" stroke="#fff" stroke-width="0.3" textLength="47.6" lengthAdjust="spacingAndGlyphs">+3°</text>
<path d="M358.53,204.97 L359.02,203.96 L359.53,202.97 L360.07,201.98 L360.64,201.02 L361.24,200.07 L361.86,199.14 L362.51,198.22 L363.18,197.33 L363.88,196.45 L364.61,195.60 L365.36,194.77 L366.13,193.95 L366.93,193.16 L367.74,192.40 L368.58,191.65 L369.44,190.93 L370.32,190.24 L371.22,189.57 L372.14,188.92 L373.07,188.31 L374.03,187.72 L374.99,187.15 L375.98,186.62 L376.98,186.11 L377.99,185.63 L379.02,185.18 L380.06,184.76 L381.11,184.37 L382.17,184.01 L383.24,183.68 L384.32,183.38 L385.41,183.12 L386.51,182.88 L387.61,182.67 L388.71,182.50 L389.83,182.35 L390.94,182.24 L392.06,182.16 L393.18,182.12 L394.30,182.10 L395.42,182.12 L396.54,182.16 L397.66,182.24 L398.77,182.35 L399.89,182.50 L400.99,182.67 L402.09,182.88 L403.19,183.12 L404.28,183.38 L405.36,183.68 L406.43,184.01 L407.49,184.37 L408.54,184.76 L409.58,185.18 L410.61,185.63 L411.62,186.11 L412.62,186.62 L413.61,187.15 L414.57,187.72 L415.53,188.31 L416.46,188.92 L417.38,189.57 L418.28,190.24 L419.16,190.93 L420.02,191.65 L420.86,192.40 L421.67,193.16 L422.47,193.95 L423.24,194.77 L423.99,195.60 L424.72,196.45 L425.42,197.33 L426.09,198.22 L426.74,199.14 L427.36,200.07 L427.96,201.02 L428.53,201.98 L429.07,202.97 L429.58,203.96 L430.07,204.97" fill="none" stroke="#1c7ec3" stroke-width="2.0" stroke-linecap="butt"/>
<path d="M354.90,221.50 L355.46,204.30 L361.61,205.65 Z" fill="#1c7ec3"/>
<path d="M433.70,221.50 L426.99,205.65 L433.14,204.30 Z" fill="#1c7ec3"/>
<path d="M514.66,1031.78 L515.15,1030.78 L515.66,1029.79 L516.20,1028.82 L516.76,1027.87 L517.35,1026.93 L517.97,1026.01 L518.62,1025.11 L519.29,1024.23 L519.98,1023.36 L520.70,1022.52 L521.45,1021.70 L522.21,1020.89 L523.00,1020.11 L523.81,1019.36 L524.64,1018.62 L525.49,1017.91 L526.37,1017.23 L527.26,1016.57 L528.16,1015.93 L529.09,1015.32 L530.04,1014.74 L530.99,1014.19 L531.97,1013.66 L532.96,1013.16 L533.96,1012.69 L534.98,1012.24 L536.01,1011.83 L537.05,1011.44 L538.10,1011.09 L539.16,1010.76 L540.23,1010.47 L541.30,1010.20 L542.39,1009.97 L543.48,1009.76 L544.57,1009.59 L545.67,1009.45 L546.78,1009.34 L547.88,1009.26 L548.99,1009.22 L550.10,1009.20 L551.21,1009.22 L552.32,1009.26 L553.42,1009.34 L554.53,1009.45 L555.63,1009.59 L556.72,1009.76 L557.81,1009.97 L558.90,1010.20 L559.97,1010.47 L561.04,1010.76 L562.10,1011.09 L563.15,1011.44 L564.19,1011.83 L565.22,1012.24 L566.24,1012.69 L567.24,1013.16 L568.23,1013.66 L569.21,1014.19 L570.16,1014.74 L571.11,1015.32 L572.04,1015.93 L572.94,1016.57 L573.83,1017.23 L574.71,1017.91 L575.56,1018.62 L576.39,1019.36 L577.20,1020.11 L577.99,1020.89 L578.75,1021.70 L579.50,1022.52 L580.22,1023.36 L580.91,1024.23 L581.58,1025.11 L582.23,1026.01 L582.85,1026.93 L583.44,1027.87 L584.00,1028.82 L584.54,1029.79 L585.05,1030.78 L585.54,1031.78" fill="none" stroke="#1c7ec3" stroke-width="2.0" stroke-linecap="butt"/>
<path d="M511.00,1048.30 L511.59,1031.09 L517.74,1032.46 Z" fill="#1c7ec3"/>
<path d="M589.20,1048.30 L582.46,1032.46 L588.61,1031.09 Z" fill="#1c7ec3"/>
<path d="M1071.79,766.54 L1072.82,767.01 L1073.84,767.51 L1074.85,768.03 L1075.84,768.59 L1076.81,769.17 L1077.77,769.79 L1078.70,770.43 L1079.62,771.09 L1080.52,771.78 L1081.40,772.50 L1082.26,773.25 L1083.09,774.01 L1083.90,774.81 L1084.69,775.62 L1085.46,776.46 L1086.20,777.32 L1086.91,778.20 L1087.60,779.10 L1088.26,780.02 L1088.90,780.96 L1089.51,781.92 L1090.09,782.89 L1090.64,783.89 L1091.16,784.89 L1091.65,785.91 L1092.12,786.95 L1092.55,788.00 L1092.95,789.06 L1093.33,790.13 L1093.67,791.21 L1093.97,792.30 L1094.25,793.41 L1094.50,794.51 L1094.71,795.63 L1094.89,796.75 L1095.04,797.87 L1095.15,799.00 L1095.23,800.13 L1095.28,801.27 L1095.30,802.40 L1095.28,803.53 L1095.23,804.67 L1095.15,805.80 L1095.04,806.93 L1094.89,808.05 L1094.71,809.17 L1094.50,810.29 L1094.25,811.39 L1093.97,812.50 L1093.67,813.59 L1093.33,814.67 L1092.95,815.74 L1092.55,816.80 L1092.12,817.85 L1091.65,818.89 L1091.16,819.91 L1090.64,820.91 L1090.09,821.91 L1089.51,822.88 L1088.90,823.84 L1088.26,824.78 L1087.60,825.70 L1086.91,826.60 L1086.20,827.48 L1085.46,828.34 L1084.69,829.18 L1083.90,829.99 L1083.09,830.79 L1082.26,831.55 L1081.40,832.30 L1080.52,833.02 L1079.62,833.71 L1078.70,834.37 L1077.77,835.01 L1076.81,835.63 L1075.84,836.21 L1074.85,836.77 L1073.84,837.29 L1072.82,837.79 L1071.79,838.26" fill="none" stroke="#1c7ec3" stroke-width="2.0" stroke-linecap="butt"/>
<path d="M1055.18,763.31 L1072.39,763.45 L1071.19,769.64 Z" fill="#1c7ec3"/>
<path d="M1055.18,841.49 L1071.19,835.16 L1072.39,841.35 Z" fill="#1c7ec3"/>
<path d="M290.00,697.85 L288.55,699.14 L287.30,700.47 L286.26,701.82 L285.45,703.20 L284.84,704.59 L284.46,705.99 L284.31,707.40 L284.37,708.81 L284.65,710.21 L285.16,711.61 L285.89,712.99 L286.83,714.35 L287.98,715.69 L289.35,717.00 L290.92,718.28 L292.68,719.51 L294.64,720.71 L296.79,721.85 L299.11,722.95 L301.60,723.99 L304.25,724.97 L307.05,725.89 L309.98,726.75 L313.05,727.53 L316.24,728.24 L319.53,728.88 L322.92,729.44 L326.39,729.92 L329.93,730.32 L333.52,730.64 L337.16,730.88 L340.83,731.03 L344.52,731.10 L348.21,731.08 L351.89,730.98 L355.55,730.79 L359.18,730.52 L362.75,730.17 L366.26,729.73 L369.70,729.22 L373.05,728.62 L376.30,727.95 L379.44,727.21 L382.45,726.40 L385.33,725.52 L388.07,724.57 L390.66,723.57 L393.08,722.50 L395.33,721.38 L397.39,720.22 L399.27,719.00 L400.96,717.75 L402.44,716.46 L403.72,715.14 L404.79,713.79 L405.64,712.42 L406.28,711.03 L406.69,709.63 L406.88,708.22 L406.86,706.81 L406.60,705.41 L406.13,704.01 L405.44,702.62 L404.53,701.26 L403.41,699.92 L402.08,698.60 L400.54,697.32 L398.80,696.08 L396.87,694.87 L394.76,693.72 L392.46,692.62 L390.00,691.57 L387.37,690.57 L384.60,689.65 L381.68,688.78 L378.63,687.99 L375.46,687.26 L372.19,686.62 L368.81,686.04 L365.35,685.55" fill="none" stroke="#1c7ec3" stroke-width="2.0" stroke-linecap="butt"/>
<path d="M304.98,690.17 L291.43,700.65 L288.56,695.04 Z" fill="#1c7ec3"/>
<path d="M348.59,684.33 L365.58,682.41 L365.13,688.69 Z" fill="#1c7ec3"/>
<line x1="491.2" y1="292.0" x2="491.2" y2="309.0" stroke="#1c7ec3" stroke-width="1.8"/>
<line x1="530.7" y1="285.5" x2="530.7" y2="302.0" stroke="#1c7ec3" stroke-width="1.8"/>
<line x1="491.1" y1="532.0" x2="491.1" y2="549.0" stroke="#1c7ec3" stroke-width="1.8"/>
<line x1="530.9" y1="525.0" x2="530.9" y2="542.0" stroke="#1c7ec3" stroke-width="1.8"/>
<line x1="494.5" y1="706.0" x2="494.5" y2="725.0" stroke="#1c7ec3" stroke-width="1.8"/>
<line x1="527.6" y1="700.5" x2="527.6" y2="715.0" stroke="#1c7ec3" stroke-width="1.8"/>
</g>
</svg>
</body></html>
